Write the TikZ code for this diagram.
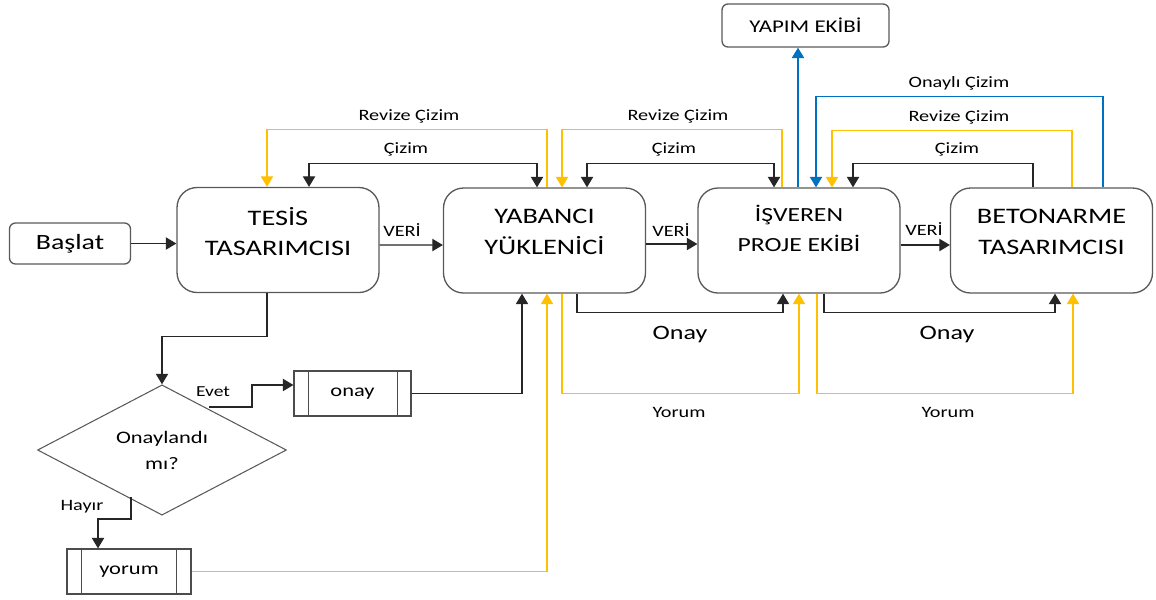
\documentclass[tikz,border=0pt]{standalone}
\usepackage{fontspec}
\setmainfont{Carlito}[FakeStretch=1.28]
\usetikzlibrary{calc,arrows.meta,shapes.geometric}

\definecolor{revize}{HTML}{FFC000}
\definecolor{onayli}{HTML}{0070C0}

\begin{document}
\begin{tikzpicture}[
        x=0.02cm, y=-0.02cm,
        box/.style={
            rectangle,
            draw=black!65,
            line width=0.75pt,
            rounded corners=0.4cm,
            minimum width=4.04cm,
            minimum height=2.1cm,
        },
        boxtext/.style={
            align=center,
            font=\fontsize{12.6}{17.6}\selectfont,
        },
        small/.style={
            rectangle,
            draw=black!65,
            line width=0.75pt,
            rounded corners=0.12cm,
        },
        process/.style={
            rectangle,
            draw=black!70,
            line width=0.7pt,
            minimum height=0.9cm,
            font=\fontsize{10}{12}\selectfont,
        },
        decision/.style={
            diamond,
            draw=black!65,
            line width=0.6pt,
            inner sep=0pt,
            minimum width=4.98cm,
            minimum height=2.28cm,
            align=center,
            font=\fontsize{10}{14.8}\selectfont,
        },
        lbl/.style={
            font=\fontsize{9}{11}\selectfont,
        },
        arr/.style={
            black!85,
            line width=0.7pt,
            -{Triangle[width=7pt,length=6pt]},
        },
        dbl/.style={
            black!85,
            line width=0.7pt,
            arrows={Triangle[width=7pt,length=6pt]-Triangle[width=7pt,length=6pt]},
        },
        yarr/.style={
            revize,
            line width=0.75pt,
            -{Triangle[width=7pt,length=6pt]},
        },
        barr/.style={
            onayli,
            line width=0.7pt,
            -{Triangle[width=7pt,length=6pt]},
        },
    ]

    \useasboundingbox (0,0) rectangle (1156,599);

    % main boxes
    \node (bas) at (70,243.5) [small, minimum width=2.42cm, minimum height=0.82cm,
        font=\fontsize{12.4}{14}\selectfont] {Başlat};
    \node (tesis) at (278,240) [box] {};
    \node (yab) at (544.5,240.5) [box] {};
    \node (isv) at (799,240.5) [box] {};
    \node (bet) at (1051.5,240.5) [box] {};
    \node (yapim) at (805.5,25.5) [small, minimum width=3.34cm, minimum height=0.86cm,
        font=\fontsize{10.2}{12}\selectfont] {YAPIM EKİBİ};

    \node (tesist) at (278,231.5) [boxtext] {TESİS\\TASARIMCISI};
    \node (yabt) at (544.5,231.5) [boxtext] {YABANCI\\YÜKLENİCİ};
    \node (isvt) at (799,228) [boxtext, font=\fontsize{11.4}{17}\selectfont] {İŞVEREN\\PROJE EKİBİ};
    \node (bett) at (1051.5,231.5) [boxtext] {BETONARME\\TASARIMCISI};

    % decision part
    \node (dia) at (162,450) [decision] {Onaylandı\\mı?};
    \node (onay) at (352.5,393.5) [process, minimum width=2.34cm] {onay};
    \node (yorum) at (129,571.5) [process, minimum width=2.48cm] {yorum};
    \draw [black!70, line width=0.7pt] ($(onay.north west)+(15,0)$) -- ($(onay.south west)+(15,0)$);
    \draw [black!70, line width=0.7pt] ($(onay.north east)+(-14,0)$) -- ($(onay.south east)+(-14,0)$);
    \draw [black!70, line width=0.7pt] ($(yorum.north west)+(15,0)$) -- ($(yorum.south west)+(15,0)$);
    \draw [black!70, line width=0.7pt] ($(yorum.north east)+(-15,0)$) -- ($(yorum.south east)+(-15,0)$);

    % VERI arrows
    \draw [arr] (bas.east) -- (bas.east -| tesis.west);
    \draw [arr] ($(tesis.east)+(0,5)$) -- ($(yab.west)+(0,4.5)$);
    \draw [arr] ($(yab.east)+(0,3.5)$) -- ($(isv.west)+(0,3.5)$);
    \draw [arr] ($(isv.east)+(0,4.5)$) -- ($(bet.west)+(0,4.5)$);
    \node (veri1) at (402,230) [lbl] {VERİ};
    \node (veri2) at (671,230) [lbl] {VERİ};
    \node (veri3) at (924,229) [lbl] {VERİ};

    % top: cizim / revize cizim
    \draw [dbl] ($(tesis.north)+(31,0)$) -- ++(0,-23) -| ($(yab.north)+(-7.5,0)$);
    \draw [yarr] ($(yab.north)+(2.5,0)$) -- ++(0,-58) -| ($(tesis.north)+(-11,0)$);
    \draw [dbl] ($(yab.north)+(42.5,0)$) -- ++(0,-24) -| ($(isv.north)+(-25,0)$);
    \draw [yarr] ($(isv.north)+(-17,0)$) -- ++(0,-58) -| ($(yab.north)+(17.5,0)$);
    \draw [arr] ($(bet.north)+(-18.5,0)$) -- ++(0,-24) -| ($(isv.north)+(54,0)$);
    \draw [yarr] ($(bet.north)+(20.5,0)$) -- ++(0,-57) -| ($(isv.north)+(33,0)$);
    \draw [barr] ($(bet.north)+(51.5,0)$) -- ++(0,-91) -| ($(isv.north)+(17,0)$);
    \draw [barr, line width=1.1pt] ($(isv.north)+(-1,0)$) -- ($(yapim.south)+(-7.5,0)$);

    \node (cizim1) at (406,149) [lbl] {Çizim};
    \node (cizim2) at (674,149) [lbl] {Çizim};
    \node (cizim3) at (957,149) [lbl] {Çizim};
    \node (revize1) at (409,116) [lbl] {Revize Çizim};
    \node (revize2) at (678,116) [lbl] {Revize Çizim};
    \node (revize3) at (959,117) [lbl] {Revize Çizim};
    \node (onayli) at (959,83) [lbl] {Onaylı Çizim};

    % bottom: onay / yorum
    \draw [arr] ($(yab.south)+(32.5,0)$) -- ++(0,19) -| ($(isv.south)+(-16,0)$);
    \draw [yarr] ($(yab.south)+(17.5,0)$) -- ++(0,100) -| (isv.south);
    \draw [arr] ($(isv.south)+(25,0)$) -- ++(0,19) -| ($(bet.south)+(3.5,0)$);
    \draw [yarr] ($(isv.south)+(18,0)$) -- ++(0,100) -| ($(bet.south)+(21.5,0)$);

    \node (onay1) at (680,335) [font=\fontsize{11.6}{13}\selectfont] {Onay};
    \node (onay2) at (947,335) [font=\fontsize{11.6}{13}\selectfont] {Onay};
    \node (yorum1) at (679,412) [lbl] {Yorum};
    \node (yorum2) at (948,412) [lbl] {Yorum};

    % left part
    \draw [arr] ($(tesis.south)+(-11,0)$) -- ++(0,43) -| (dia.north);
    \coordinate (evet0) at (209,407);
    \draw [arr] (evet0) -- ++(43,0) |- ($(onay.west)+(0,-8.5)$);
    \node (evet) at (213,392) [font=\fontsize{8.7}{10}\selectfont] {Evet};
    \draw [arr] (onay.east) -| ($(yab.south)+(-22.5,0)$);
    \coordinate (hayir0) at (131,497);
    \draw [arr] (hayir0) -- ++(0,22) -| ($(yorum.north)+(-31,0)$);
    \node (hayir) at (82,507) [lbl] {Hayır};
    \draw [yarr] (yorum.east) -| ($(yab.south)+(2.5,0)$);

\end{tikzpicture}
\end{document}
